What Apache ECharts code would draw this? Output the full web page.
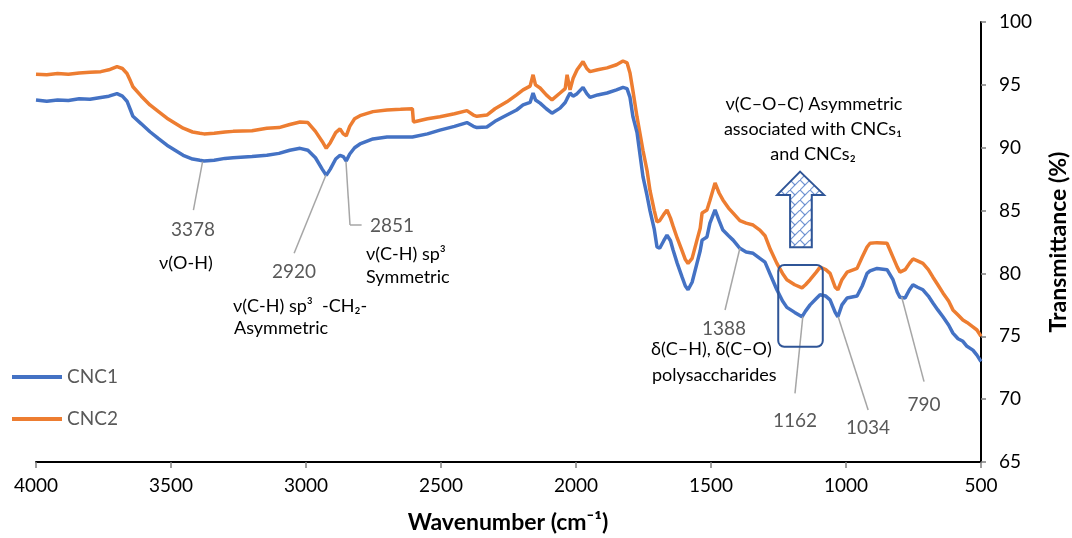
<!DOCTYPE html>
<html>
<head>
<meta charset="utf-8">
<script src="https://cdn.jsdelivr.net/npm/echarts@6/dist/echarts.min.js"></script>
<style>
html,body{margin:0;padding:0;background:#fff;}
#chart{width:1072px;height:538px;}
</style>
</head>
<body>
<div id="chart"></div>
<script>
// ---- Data ----
const wavenumbers = [4000,3960,3920,3880,3840,3800,3760,3730,3700,3680,3663,3650,3641,3610,3578,3545,3515,3485,3455,3420,3393,3378,3340,3300,3270,3200,3145,3100,3060,3022,2993,2965,2940,2925,2910,2890,2874,2862,2851,2838,2820,2800,2752,2700,2650,2606,2602,2550,2504,2450,2404,2380,2367,2330,2300,2256,2220,2196,2170,2159,2150,2133,2110,2089,2059,2040,2033,2022,2011,1996,1974,1960,1948,1920,1885,1850,1826,1811,1800,1789,1774,1752,1737,1726,1710,1700,1690,1675,1663,1650,1641,1625,1607,1595,1585,1570,1552,1540,1533,1515,1504,1485,1470,1456,1435,1418,1393,1370,1344,1319,1300,1280,1256,1235,1219,1190,1163,1150,1133,1110,1096,1075,1059,1040,1030,1015,996,959,940,922,911,885,848,826,810,800,781,765,752,735,715,695,678,660,641,620,604,585,567,552,530,515,500];
const cnc1 = [93.8,93.7,93.8,93.75,93.9,93.85,94.0,94.1,94.3,94.1,93.7,93.0,92.5,91.9,91.27,90.7,90.2,89.8,89.4,89.1,89.0,88.95,89.0,89.15,89.2,89.3,89.4,89.55,89.8,89.95,89.8,89.2,88.3,87.8,88.3,89.1,89.4,89.3,88.95,89.5,90.0,90.3,90.7,90.85,90.85,90.85,90.85,91.1,91.4,91.7,92.0,91.7,91.6,91.65,92.1,92.6,93.0,93.4,93.6,94.35,93.8,93.55,93.1,92.75,93.15,93.6,93.9,94.35,94.1,94.3,94.8,94.3,94.0,94.2,94.35,94.6,94.8,94.7,94.0,92.45,91.2,87.7,86.2,85.0,83.5,82.1,82.0,82.6,83.05,82.6,81.9,80.8,79.7,79.0,78.7,79.3,80.8,81.8,82.65,82.9,84.0,85.05,84.2,83.45,83.0,82.65,82.0,81.7,81.6,81.2,80.9,79.9,78.7,77.8,77.3,76.9,76.55,77.0,77.5,78.0,78.3,78.2,77.9,76.9,76.55,77.5,78.05,78.2,79.0,80.0,80.2,80.4,80.3,79.5,78.5,78.1,78.05,78.7,79.1,78.9,78.7,78.2,77.65,77.1,76.55,75.9,75.25,74.8,74.6,74.2,73.9,73.5,73.0];
const cnc2 = [95.85,95.8,95.9,95.85,95.95,96.0,96.05,96.2,96.45,96.3,95.9,95.3,94.85,94.1,93.4,92.85,92.35,91.95,91.55,91.25,91.15,91.1,91.15,91.25,91.3,91.35,91.55,91.6,91.85,92.05,92.0,91.3,90.5,89.95,90.4,91.2,91.5,91.1,90.95,91.7,92.3,92.55,92.87,93.0,93.05,93.1,92.05,92.3,92.47,92.7,92.95,92.6,92.5,92.6,93.1,93.65,94.2,94.6,94.9,95.8,95.0,94.75,94.2,93.8,94.35,94.7,95.8,94.6,95.5,96.2,96.85,96.3,96.05,96.2,96.35,96.6,96.9,96.75,95.95,94.5,92.45,89.8,88.2,86.6,85.0,84.1,84.2,84.7,85.05,84.4,83.8,82.8,81.8,81.1,80.8,81.2,82.65,83.6,84.8,85.05,85.8,87.2,86.4,85.85,85.2,84.8,84.2,84.0,83.85,83.45,83.0,81.9,80.8,80.0,79.5,79.1,78.85,79.1,79.5,80.1,80.5,80.3,80.0,78.9,78.7,79.5,80.1,80.4,81.3,82.1,82.4,82.45,82.4,81.3,80.5,80.1,80.3,80.8,81.15,81.0,80.8,80.3,79.7,79.1,78.45,77.8,77.1,76.7,76.3,76.1,75.75,75.5,75.0];
const seriesNames = ['CNC1','CNC2'];
const xTicks = {min:500, max:4000, step:500};
const yTicks = {min:65, max:100, step:5};

// Leader lines: [peak point on curve] -> [label end], data coordinates
const leaders = [
  [[3383,88.89],[3417,85.04]],
  [[2926,87.83],[3044,81.6]],
  [[2852,88.89],[2837,83.85]],
  [[2837,83.85],[2794,83.85]],
  [[1393,82.0],[1448,77.09]],
  [[1160,76.56],[1189,70.46]],
  [[1029,76.56],[918,69.13]],
  [[794,78.15],[711,71.39]]
];

const chart = echarts.init(document.getElementById('chart'), null, {renderer:'canvas'});
const FONT = 'Lato, "Open Sans", "DejaVu Sans", sans-serif';

function toPairs(arr){ return wavenumbers.map((w,i)=>[w, arr[i]]); }

const option = {
  animation: false,
  backgroundColor: '#ffffff',
  grid: {left:36, right:91, top:22, bottom:76},
  legend: {
    orient: 'vertical', left: 12, top: 367, padding: 0,
    itemWidth: 50, itemHeight: 4, itemGap: 22,
    icon: 'rect',
    textStyle: {fontFamily: FONT, fontSize: 19, color: '#595959', lineHeight: 20, padding:[0,0,0,0]},
    data: seriesNames
  },
  xAxis: {
    type: 'value', inverse: true,
    min: xTicks.min, max: xTicks.max, interval: xTicks.step,
    axisLine: {show:true, onZero:false, lineStyle:{color:'#000', width:2}},
    axisTick: {show:true, length:6, lineStyle:{color:'#808080', width:1.5}},
    axisLabel: {fontFamily: FONT, fontSize: 19, color:'#000', margin: 14, formatter: v => String(v)},
    splitLine: {show:false}
  },
  yAxis: {
    type: 'value', position: 'right',
    min: yTicks.min, max: yTicks.max, interval: yTicks.step,
    axisLine: {show:true, onZero:false, lineStyle:{color:'#000', width:2}},
    axisTick: {show:true, length:5, lineStyle:{color:'#808080', width:1.5}},
    axisLabel: {fontFamily: FONT, fontSize: 19, color:'#000', margin: 18, formatter: v => String(v)},
    splitLine: {show:false}
  },
  series: [
    {
      name: seriesNames[0], type: 'line', data: toPairs(cnc1),
      showSymbol: false, symbol: 'none', z: 3,
      color: '#4472c4',
      lineStyle: {color:'#4472c4', width:3.5},
      markLine: {
        silent: true, symbol: ['none','none'], animation: false,
        label: {show:false},
        lineStyle: {color:'#a6a6a6', width:1.5, type:'solid'},
        emphasis: {disabled:true},
        data: leaders.map(l => [{coord:l[0]},{coord:l[1]}])
      }
    },
    {
      name: seriesNames[1], type: 'line', data: toPairs(cnc2),
      showSymbol: false, symbol: 'none', z: 2,
      color: '#ed7d31',
      lineStyle: {color:'#ed7d31', width:3.5}
    }
  ]
};
chart.setOption(option);

// hatch pattern for the arrow
const pc = document.createElement('canvas');
pc.width = 10; pc.height = 10;
const g = pc.getContext('2d');
g.fillStyle = '#ffffff'; g.fillRect(0,0,10,10);
g.strokeStyle = 'rgba(68,114,196,0.75)'; g.lineWidth = 1.2;
g.beginPath(); g.moveTo(0,10); g.lineTo(10,0); g.stroke();
g.beginPath(); g.moveTo(0,0); g.lineTo(5,5); g.stroke();
const hatch = {type:'pattern', image: pc, repeat: 'repeat'};

function num(t, x, y){
  return {type:'text', silent:true, z:10, style:{text:t, x:x, y:y, fill:'#595959', font:'19px ' + FONT, align:'center', verticalAlign:'middle'}};
}
function desc(t, x, y, align){
  return {type:'text', silent:true, z:10, style:{text:t, x:x, y:y, fill:'#000', font:'18px ' + FONT, align:align || 'left', verticalAlign:'middle'}};
}

const P = (w,v) => chart.convertToPixel({gridIndex:0}, [w,v]);
const tip = P(1170, 88.1);
const rtl = P(1251, 80.67), rbr = P(1086, 74.17);

chart.setOption({
  graphic: [
    num('3378', 193, 230),
    desc('\u03bd(O-H)', 159, 263),
    num('2920', 294, 272),
    desc('\u03bd(C-H) sp\u00b3  -CH\u2082-', 233, 306),
    desc('Asymmetric', 234, 328),
    num('2851', 392, 226),
    desc('\u03bd(C-H) sp\u00b3', 366, 254),
    desc('Symmetric', 366, 277),
    num('1388', 724, 329),
    desc('\u03b4(C\u2013H), \u03b4(C\u2013O)', 651, 349),
    desc('polysaccharides', 652, 375),
    num('1162', 795, 421),
    num('1034', 868, 428),
    num('790', 924, 405),
    desc('\u03bd(C\u2013O\u2013C) Asymmetric', 814, 104, 'center'),
    desc('associated with CNCs\u2081', 813, 129, 'center'),
    desc('and CNCs\u2082', 813, 154, 'center'),
    {
      type:'polygon', silent:true, z:9,
      shape:{points:[
        [tip[0], tip[1]],
        [tip[0]+24, tip[1]+23.3],
        [tip[0]+11.7, tip[1]+23.3],
        [tip[0]+11.7, tip[1]+75.6],
        [tip[0]-10, tip[1]+75.6],
        [tip[0]-10, tip[1]+23.3],
        [tip[0]-23, tip[1]+23.3]
      ]},
      style:{fill: hatch, stroke:'#2f5597', lineWidth:2}
    },
    {
      type:'rect', silent:true, z:9,
      shape:{x:rtl[0], y:rtl[1], width:rbr[0]-rtl[0], height:rbr[1]-rtl[1], r:6},
      style:{fill:'none', stroke:'#2f5597', lineWidth:2}
    },
    {
      type:'text', silent:true, z:10,
      style:{text:'Wavenumber (cm\u207b\u00b9)', x:508, y:523, fill:'#000', font:'bold 23px ' + FONT, align:'center', verticalAlign:'middle'}
    },
    {
      type:'text', silent:true, z:10, x:1059, y:242, rotation: Math.PI/2,
      style:{text:'Transmittance (%)', x:0, y:0, fill:'#000', font:'bold 23px ' + FONT, align:'center', verticalAlign:'middle'}
    }
  ]
});
</script>
</body>
</html>
